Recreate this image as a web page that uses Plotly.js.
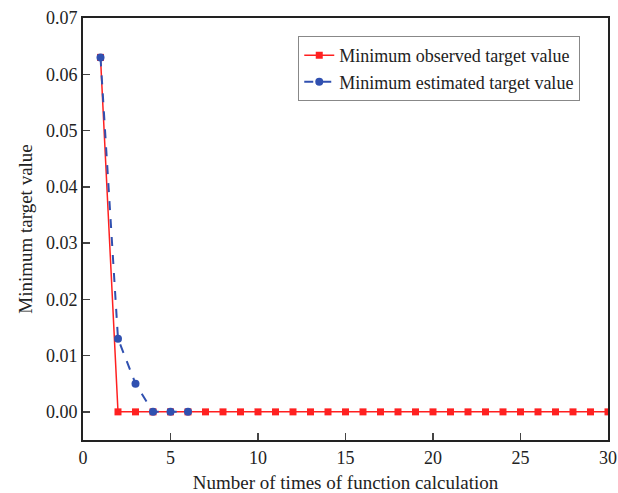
<!DOCTYPE html>
<html>
<head>
<meta charset="utf-8">
<script src="https://cdn.plot.ly/plotly-3.0.1.min.js"></script>
<style>html,body{margin:0;padding:0;background:#fff;}</style>
</head>
<body>
<div id="chart" style="width:618px;height:493px;"></div>
<script>
const obsX = [1,2,3,4,5,6,7,8,9,10,11,12,13,14,15,16,17,18,19,20,21,22,23,24,25,26,27,28,29,30];
const obsY = [0.063,0,0,0,0,0,0,0,0,0,0,0,0,0,0,0,0,0,0,0,0,0,0,0,0,0,0,0,0,0];
const estX = [1,2,3,4,5,6];
const estY = [0.063,0.013,0.005,0,0,0];
const seriesNames = ["Minimum observed target value","Minimum estimated target value"];
const xTicks = [0,5,10,15,20,25,30];
const yTicks = [0,0.01,0.02,0.03,0.04,0.05,0.06,0.07];
const yTickText = ["0.00","0.01","0.02","0.03","0.04","0.05","0.06","0.07"];

const font = "Liberation Serif, Times New Roman, serif";
const traces = [
  {x: obsX, y: obsY, name: seriesNames[0], type: "scatter", mode: "lines+markers",
   line: {color: "#ff2020", width: 1.5}, marker: {symbol: "square", size: 7, color: "#ff2020"}},
  {x: estX, y: estY, name: seriesNames[1], type: "scatter", mode: "lines+markers",
   line: {color: "#3050b0", width: 2, dash: "dash"}, marker: {symbol: "circle", size: 8, color: "#3050b0"}}
];
const layout = {
  width: 618, height: 493,
  margin: {l: 83, r: 10, t: 18, b: 53},
  paper_bgcolor: "#fff", plot_bgcolor: "#fff",
  font: {family: font, size: 18, color: "#222"},
  showlegend: true,
  legend: {x: 0.41, y: 0.957, xanchor: "left", yanchor: "top", bgcolor: "#fff",
           bordercolor: "#888", borderwidth: 1, font: {family: font, size: 18, color: "#222"},
           tracegroupgap: 0, itemwidth: 30},
  xaxis: {range: [0, 30], tickvals: xTicks, ticks: "inside", ticklen: 7, tickwidth: 1.5,
          showline: true, linewidth: 2, linecolor: "#222", mirror: true, showgrid: false, zeroline: false,
          title: {text: "Number of times of function calculation", font: {family: font, size: 19}, standoff: 10},
          tickfont: {family: font, size: 18}},
  yaxis: {range: [-0.005, 0.07], tickvals: yTicks, ticktext: yTickText, ticks: "inside", ticklen: 7, tickwidth: 1.5,
          showline: true, linewidth: 2, linecolor: "#222", mirror: true, showgrid: false, zeroline: false,
          title: {text: "Minimum target value", font: {family: font, size: 19}, standoff: 8},
          tickfont: {family: font, size: 18}}
};
Plotly.newPlot("chart", traces, layout, {displayModeBar: false, staticPlot: true});
</script>
</body>
</html>
